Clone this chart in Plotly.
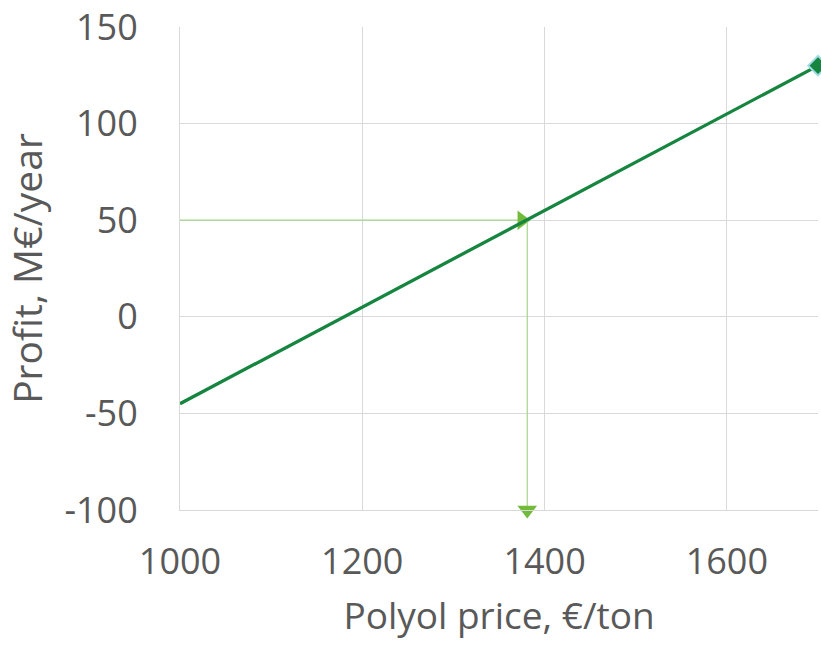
import plotly.graph_objects as go

# Data
price = [1000, 1700]
profit = [-45, 130]
h_arrow_x = [1000, 1375]
h_arrow_y = [50, 50]
v_arrow_x = [1381, 1381]
v_arrow_y = [50, -100]
x_ticks = [1000, 1200, 1400, 1600]
y_ticks = [-100, -50, 0, 50, 100, 150]
y_tick_text = ["-100", "-50", "0", "50", "100", "150"]

fig = go.Figure()
fig.add_trace(go.Scatter(x=h_arrow_x, y=h_arrow_y, mode="lines",
                         line=dict(color="#a9d48c", width=1.2),
                         cliponaxis=False, showlegend=False))
fig.add_trace(go.Scatter(x=h_arrow_x[-1:], y=h_arrow_y[-1:], mode="markers",
                         marker=dict(symbol="triangle-right", size=17, color="#72bb3a"),
                         cliponaxis=False, showlegend=False))
fig.add_trace(go.Scatter(x=v_arrow_x, y=v_arrow_y, mode="lines",
                         line=dict(color="#a9d48c", width=1.2),
                         cliponaxis=False, showlegend=False))
fig.add_trace(go.Scatter(x=v_arrow_x[-1:], y=v_arrow_y[-1:], mode="markers",
                         marker=dict(symbol="triangle-down", size=17, color="#72bb3a"),
                         cliponaxis=False, showlegend=False))
fig.add_trace(go.Scatter(x=price, y=profit, mode="lines",
                         line=dict(color="#16853f", width=3.3),
                         cliponaxis=False, showlegend=False))
fig.add_trace(go.Scatter(x=price[-1:], y=profit[-1:], mode="markers",
                         marker=dict(symbol="diamond", size=15, color="#16853f",
                                     line=dict(color="#9fdbe3", width=2)),
                         cliponaxis=False, showlegend=False))

fig.update_layout(
    width=821, height=648,
    margin=dict(l=180, r=3, t=27, b=138),
    paper_bgcolor="white", plot_bgcolor="white",
    font=dict(family="Open Sans, sans-serif", color="#595959"),
    xaxis=dict(range=[1000, 1700], tickvals=x_ticks, showgrid=True,
               gridcolor="#d9d9d9", gridwidth=1.3, zeroline=False,
               showline=True, linecolor="#d9d9d9", automargin=False,
               ticklabeloverflow="allow",
               tickfont=dict(size=36), ticklabelstandoff=20,
               title=dict(text="Polyol price, €/ton", font=dict(size=37), standoff=18)),
    yaxis=dict(range=[-100, 150], tickvals=y_ticks, ticktext=y_tick_text, showgrid=True,
               gridcolor="#d9d9d9", gridwidth=1.3, zeroline=False,
               showline=True, linecolor="#d9d9d9", automargin=False,
               ticklabeloverflow="allow",
               tickfont=dict(size=36), ticklabelstandoff=34,
               title=dict(text="Profit, M€/year", font=dict(size=39), standoff=18)),
)
fig.write_html("out.html", config={"displayModeBar": False},
               post_script="document.body.style.margin='0';")
